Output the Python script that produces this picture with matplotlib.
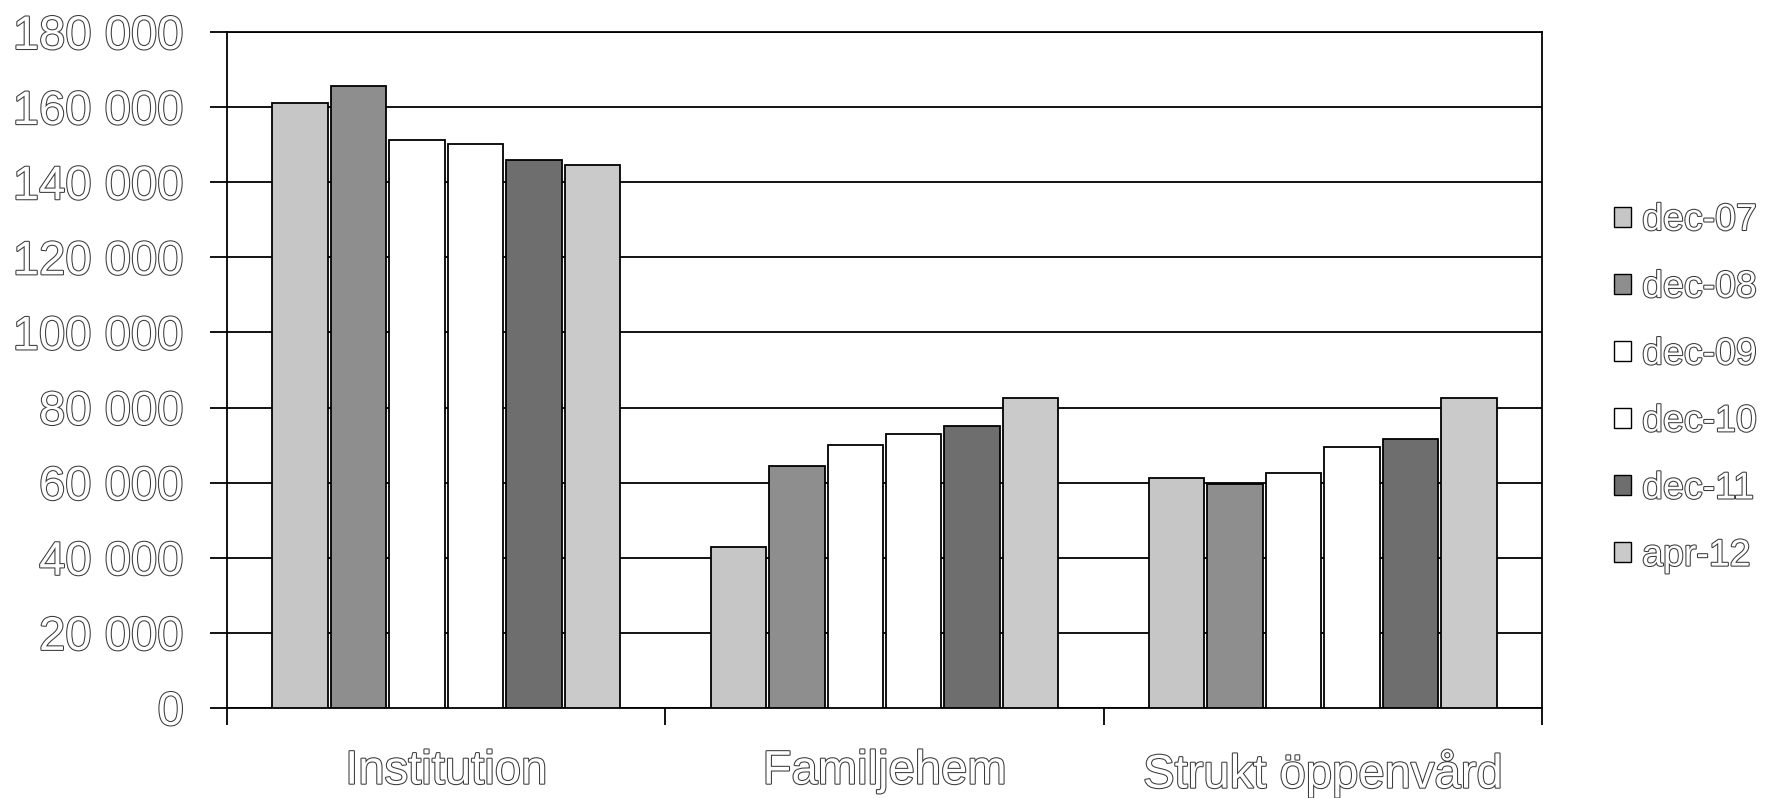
import numpy as np
import matplotlib
matplotlib.use('Agg')
import matplotlib.pyplot as plt
import matplotlib.patheffects as pe
from matplotlib.ticker import FuncFormatter, MultipleLocator

plt.rcParams['font.family'] = ['Liberation Sans', 'DejaVu Sans']

categories = ['Institution', 'Familjehem', 'Strukt öppenvård']
series = ['dec-07', 'dec-08', 'dec-09', 'dec-10', 'dec-11', 'apr-12']
values = {
    'dec-07': [161000, 42800, 61200],
    'dec-08': [165500, 64400, 59600],
    'dec-09': [151200, 70100, 62500],
    'dec-10': [150300, 72900, 69400],
    'dec-11': [145800, 75100, 71600],
    'apr-12': [144600, 82600, 82500],
}
colors = ['#c6c6c6', '#8e8e8e', '#ffffff', '#ffffff', '#6e6e6e', '#cacaca']

# scanned text looks hollow: white fill with a thin grey outline
outline = [pe.withStroke(linewidth=1.5, foreground='#3a3a3a')]

fig = plt.figure(figsize=(17.71, 7.98), dpi=100)
ax = fig.add_axes([227 / 1771, 1 - 708 / 798, 1315 / 1771, 676 / 798])

x = np.arange(len(categories))
step = 0.8 / len(series)
for i, s in enumerate(series):
    ax.bar(x - 0.4 + step * (i + 0.5), values[s], width=step * 0.95,
           color=colors[i], edgecolor='black', linewidth=1.3, label=s, zorder=3)

ax.set_xlim(-0.5, len(categories) - 0.5)
ax.set_ylim(0, 180000)
ax.yaxis.set_major_locator(MultipleLocator(20000))
ax.yaxis.set_major_formatter(FuncFormatter(lambda v, p: f'{int(v):,}'.replace(',', ' ')))
ax.grid(axis='y', color='black', linewidth=1.3, zorder=0)

ax.set_xticks(x)
ax.set_xticklabels(categories)
ax.set_xticks(np.arange(len(categories) + 1) - 0.5, minor=True)
ax.tick_params(axis='x', which='major', length=0, pad=30, labelsize=34, labelcolor='white')
ax.tick_params(axis='x', which='minor', length=12, width=1.3, direction='out')
ax.tick_params(axis='y', length=12, width=1.3, pad=19, labelsize=34, labelcolor='white')
for lab in ax.get_xticklabels() + ax.get_yticklabels():
    lab.set_path_effects(outline)

for sp in ax.spines.values():
    sp.set_linewidth(1.3)
    sp.set_color('black')

leg = ax.legend(loc='upper left', bbox_to_anchor=(1614 / 1771, 1 - 202 / 798),
                bbox_transform=fig.transFigure, frameon=False, fontsize=27,
                handlelength=0.45, handleheight=0.45, handletextpad=0.3,
                labelspacing=0.83, borderpad=0, borderaxespad=0)
for t in leg.get_texts():
    t.set_color('white')
    t.set_path_effects(outline)
for h in leg.legend_handles:
    h.set_linewidth(1.0)

fig.savefig('out.png', dpi=100)
